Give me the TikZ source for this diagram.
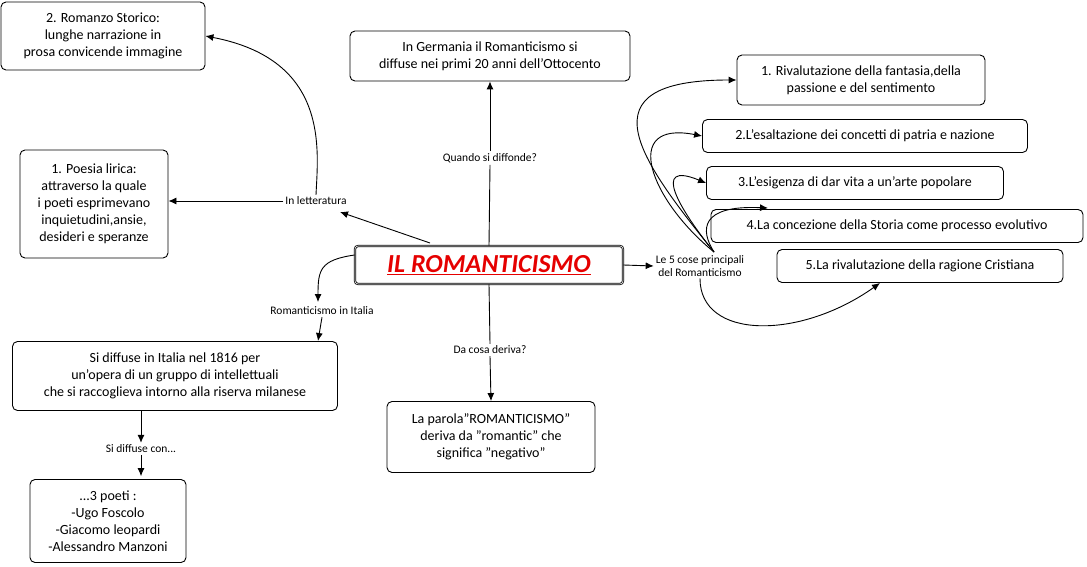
\documentclass[tikz,border=0pt]{standalone}
\usepackage{fontspec}
\setmainfont{Carlito}
\usetikzlibrary{arrows.meta}
\tikzset{
  box/.style={draw, line width=0.9pt, rounded corners=5pt, align=center, inner sep=3pt, font=\fontsize{14}{17}\selectfont, fill=white},
  lbl/.style={align=center, inner sep=2pt, font=\fontsize{11.5}{12.5}\selectfont, fill=white},
  con/.style={-{Latex[length=8pt,width=7pt]}, line width=0.9pt}
}
\begin{document}
\begin{tikzpicture}[x=1pt,y=-1pt]
\useasboundingbox (0,0) rectangle (1087,567);

% central topic
\node[draw, double, line width=0.8pt, rounded corners=3pt, minimum width=268, minimum height=38, font=\fontsize{26}{30}\selectfont\bfseries\itshape, text=red!90!black] (main) at (489,265) {\underline{IL ROMANTICISMO}};

% boxes
\node[box, minimum width=204, minimum height=68] (storico) at (103,36) {2. Romanzo Storico:\\lunghe narrazione in\\prosa convicende immagine};
\node[box, minimum width=280, minimum height=50] (germania) at (490,56) {In Germania il Romanticismo si\\diffuse nei primi 20 anni dell'Ottocento};
\node[box, minimum width=248, minimum height=50] (c1) at (861,80) {1. Rivalutazione della fantasia,della\\passione e del sentimento};
\node[box, minimum width=325, minimum height=33] (c2) at (865,136) {2.L'esaltazione dei concetti di patria e nazione};
\node[box, minimum width=297, minimum height=33] (c3) at (855,183) {3.L'esigenza di dar vita a un'arte popolare};
\node[box, minimum width=372, minimum height=33] (c4) at (897,226) {4.La concezione della Storia come processo evolutivo};
\node[box, minimum width=286, minimum height=33] (c5) at (920,266) {5.La rivalutazione della ragione Cristiana};
\node[box, minimum width=148, minimum height=108] (lirica) at (94,204) {1. Poesia lirica:\\attraverso la quale\\i poeti esprimevano\\inquietudini,ansie,\\desideri e speranze};
\node[box, minimum width=325, minimum height=69] (italia) at (175,376) {Si diffuse in Italia nel 1816 per\\un'opera di un gruppo di intellettuali\\che si raccoglieva intorno alla riserva milanese};
\node[box, minimum width=208, minimum height=71] (parola) at (491,437) {La parola"ROMANTICISMO"\\deriva da "romantic" che\\significa "negativo"};
\node[box, minimum width=156, minimum height=83] (poeti) at (108,521) {...3 poeti :\\-Ugo Foscolo\\-Giacomo leopardi\\-Alessandro Manzoni};

% link labels
\node[lbl] (letter) at (316,201) {In letteratura};
\node[lbl] (quando) at (490,158) {Quando si diffonde?};
\node[lbl] (cinque) at (700,266) {Le 5 cose principali\\del Romanticismo};
\node[lbl] (initalia) at (322,311) {Romanticismo in Italia};
\node[lbl] (deriva) at (490,350) {Da cosa deriva?};
\node[lbl] (diffcon) at (141,449) {Si diffuse con...};

% connectors
\coordinate (mainnw) at (430,243);
\draw[con] (mainnw) -- (340,212);
\draw[con] (letter.west) -- (lirica.east |- letter);
\draw[con] (letter.north) .. controls (318,150) and (330,60) .. (storico.east);
\draw[line width=0.9pt] (main.north) -- (quando.south);
\draw[con] (quando.north) -- (germania.south);
\draw[con] (main.east) -- (cinque.west);
\coordinate (hub) at (714,252);
\draw[con] (hub) .. controls (640,160) and (580,80) .. (c1.west);
\draw[con] (hub) .. controls (650,200) and (620,120) .. (c2.west);
\draw[con] (hub) .. controls (680,210) and (650,160) .. (c3.west);
\draw[con] (hub) .. controls (700,230) and (700,205) .. (768,208);
\draw[con] (cinque.south) .. controls (700,340) and (800,340) .. (880,283);
\draw[con] (main.west) ++(0,-10) .. controls (320,260) and (318,270) .. (318,302);
\draw[con] (initalia.south) -- (318,341);
\draw[line width=0.9pt] (main.south) -- (deriva.north);
\draw[con] (deriva.south) -- (parola.north);
\draw[con] (italia.south) ++(-34,0) -- (diffcon.north);
\draw[con] (diffcon.south) -- ++(0,21);
\end{tikzpicture}
\end{document}
